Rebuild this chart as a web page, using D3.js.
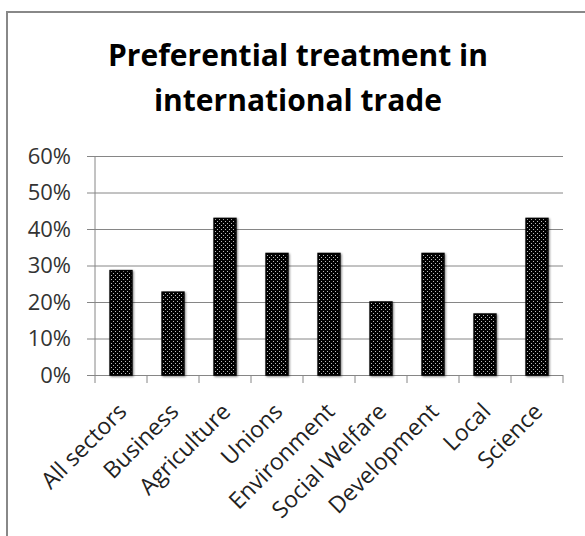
<!DOCTYPE html>
<html><head><meta charset="utf-8">
<script src="https://cdn.jsdelivr.net/npm/d3@7"></script>
<style>body{margin:0;background:#fff}svg{display:block}text{font-family:"Open Sans",Lato,sans-serif}</style>
</head><body>
<script>
const categories = ["All sectors","Business","Agriculture","Unions","Environment","Social Welfare","Development","Local","Science"];
const values = [0.286,0.227,0.429,0.333,0.333,0.20,0.333,0.167,0.429];
const yTicks = [0,0.1,0.2,0.3,0.4,0.5,0.6];
const titleLines = ["Preferential treatment in","international trade"];

const W=585,H=536;
const svg=d3.select("body").append("svg").attr("width",W).attr("height",H);
const defs=svg.append("defs");
const pat=defs.append("pattern").attr("id","dots").attr("patternUnits","userSpaceOnUse").attr("width",4).attr("height",4);
pat.append("rect").attr("width",4).attr("height",4).attr("fill","#000");
pat.append("rect").attr("x",1).attr("y",1).attr("width",1).attr("height",1).attr("fill","#bbb");
pat.append("rect").attr("x",3).attr("y",3).attr("width",1).attr("height",1).attr("fill","#bbb");
const f=defs.append("filter").attr("id","sh").attr("x","-30%").attr("y","-10%").attr("width","160%").attr("height","120%");
f.append("feGaussianBlur").attr("in","SourceAlpha").attr("stdDeviation",1.2).attr("result","b");
f.append("feOffset").attr("in","b").attr("dx",1).attr("dy",1).attr("result","o");
f.append("feComponentTransfer").attr("in","o").attr("result","o2").append("feFuncA").attr("type","linear").attr("slope",0.5);
const m=f.append("feMerge");m.append("feMergeNode").attr("in","o2");m.append("feMergeNode").attr("in","SourceGraphic");

// frame
svg.append("rect").attr("x",7).attr("y",12).attr("width",W).attr("height",H).attr("fill","none").attr("stroke","#888").attr("stroke-width",2);

const x0=95,x1=563,yTop=156,yBot=375;
const x=d3.scaleBand().domain(categories).range([x0,x1]).paddingInner(0.58).paddingOuter(0.29);
const xb=d3.scaleBand().domain(categories).range([x0,x1]);
const y=d3.scaleLinear().domain([0,0.6]).range([yBot,yTop]);

// gridlines + y axis
const ya=d3.axisLeft(y).tickValues(yTicks).tickFormat(d3.format(".0%")).tickSize(-(x1-x0)).tickSizeOuter(0).tickPadding(24);
const gy=svg.append("g").attr("transform",`translate(${x0},0)`).call(ya);
gy.select(".domain").remove();
gy.selectAll(".tick line").attr("stroke","#868686").attr("x1",-8);
gy.selectAll(".tick text").attr("font-size",22).attr("fill","#333").attr("font-family","'Open Sans',sans-serif");
svg.append("line").attr("x1",x0).attr("x2",x0).attr("y1",yTop).attr("y2",yBot).attr("stroke","#868686");

// x ticks at boundaries
const bounds=categories.map(c=>xb(c)).concat([x1]);
svg.append("g").selectAll("line").data(bounds).join("line")
 .attr("x1",d=>d).attr("x2",d=>d).attr("y1",yBot).attr("y2",yBot+8).attr("stroke","#868686");

// bars
svg.append("g").selectAll("rect").data(values).join("rect")
 .attr("x",(d,i)=>x(categories[i])).attr("width",x.bandwidth())
 .attr("y",d=>y(d)).attr("height",d=>yBot-y(d))
 .attr("fill","url(#dots)").attr("stroke","#000").attr("stroke-width",1.5).attr("filter","url(#sh)");

// x labels
svg.append("g").selectAll("text").data(categories).join("text")
 .attr("transform",c=>`translate(${xb(c)+xb.bandwidth()/2+7},${413}) rotate(-45)`)
 .attr("text-anchor","end").attr("font-size",23).attr("fill","#222").text(c=>c);

// title
const tt=svg.append("g").selectAll("text").data(titleLines).join("text")
 .attr("x",298).attr("y",(d,i)=>i?111:66).attr("text-anchor","middle")
 .attr("font-size",28).attr("font-weight","bold").attr("fill","#000").text(d=>d);
const w0=tt.nodes()[0].getComputedTextLength();
tt.attr("font-size",28*380/w0);
</script>
</body></html>
